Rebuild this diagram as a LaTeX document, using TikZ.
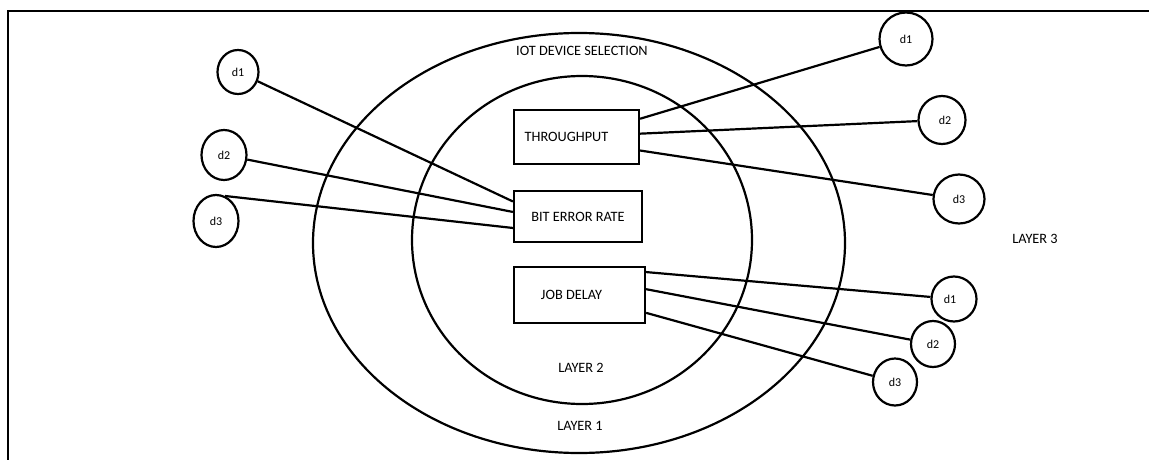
\documentclass[tikz,border=0pt]{standalone}
\usepackage{fontspec}
\setmainfont{Carlito}
\usetikzlibrary{shapes.geometric}
\begin{document}
\begin{tikzpicture}[x=1pt,y=-1pt,
  lw/.style={line width=2.2pt},
  lbl/.style={font=\fontsize{14.3}{16}\selectfont},
  bx/.style={draw,lw,rectangle,inner sep=0pt,font=\fontsize{14.3}{16}\selectfont},
  dev/.style={draw,lw,ellipse,inner sep=0pt,font=\fontsize{12}{14}\selectfont},
  conn/.style={lw}]
\useasboundingbox (0,0) rectangle (1149,460);
% frame (top and left edges)
\coordinate (ftl) at (8,11);
\coordinate (ftr) at (1149,11);
\coordinate (fbl) at (8,460);
\draw[line width=1.6pt] (fbl) -- (ftl) -- (ftr);
% layers
\node[draw,ellipse,lw,minimum width=532pt,minimum height=420pt,inner sep=0pt] (outer) at (579,243) {};
\node[draw,ellipse,lw,minimum width=340pt,minimum height=328pt,inner sep=0pt] (inner) at (582,240) {};
\node[lbl] (title) at (582,51) {IOT DEVICE SELECTION};
\node[lbl] (l2) at (581,368) {LAYER 2};
\node[lbl] (l1) at (580,426) {LAYER 1};
\node[lbl] (l3) at (1035,239) {LAYER 3};
% boxes
\node[bx,minimum width=125pt,minimum height=54pt] (tp) at (576.5,137) {\hspace*{-20pt}THROUGHPUT};
\node[bx,minimum width=128pt,minimum height=51pt] (ber) at (578,216.5) {BIT ERROR RATE};
\node[bx,minimum width=131pt,minimum height=56pt] (jd) at (579.5,295) {\hspace*{-16pt}JOB DELAY};
% devices left
\node[dev,minimum width=41pt,minimum height=44pt] (la1) at (238,72) {d1};
\node[dev,minimum width=45pt,minimum height=50pt] (la2) at (224,155) {d2};
\node[dev,minimum width=45pt,minimum height=52pt] (la3) at (216,221) {d3};
% devices right top
\node[dev,minimum width=53pt,minimum height=53pt] (ra1) at (906,39) {d1};
\node[dev,minimum width=47pt,minimum height=48pt] (ra2) at (942,120) {\hspace*{6pt}d2};
\node[dev,minimum width=51pt,minimum height=49pt] (ra3) at (959,199) {d3};
% devices right bottom
\node[dev,minimum width=45pt,minimum height=45pt] (rb1) at (954,299) {\hspace*{-8pt}d1};
\node[dev,minimum width=44pt,minimum height=46pt] (rb2) at (933,344) {d2};
\node[dev,minimum width=44pt,minimum height=47pt] (rb3) at (895,382) {d3};
% connectors
\draw[conn] (la1) -- (ber.167);
\draw[conn] (la2) -- (ber.176);
\draw[conn] (la3.70) -- (ber.190);
\draw[conn] (tp.16) -- (ra1);
\draw[conn] (tp.3) -- (ra2);
\draw[conn] (tp.-12) -- (ra3);
\draw[conn] (jd.19) -- (rb1);
\draw[conn] (jd.5) -- (rb2);
\draw[conn] (jd.-15) -- (rb3);
\end{tikzpicture}
\end{document}
